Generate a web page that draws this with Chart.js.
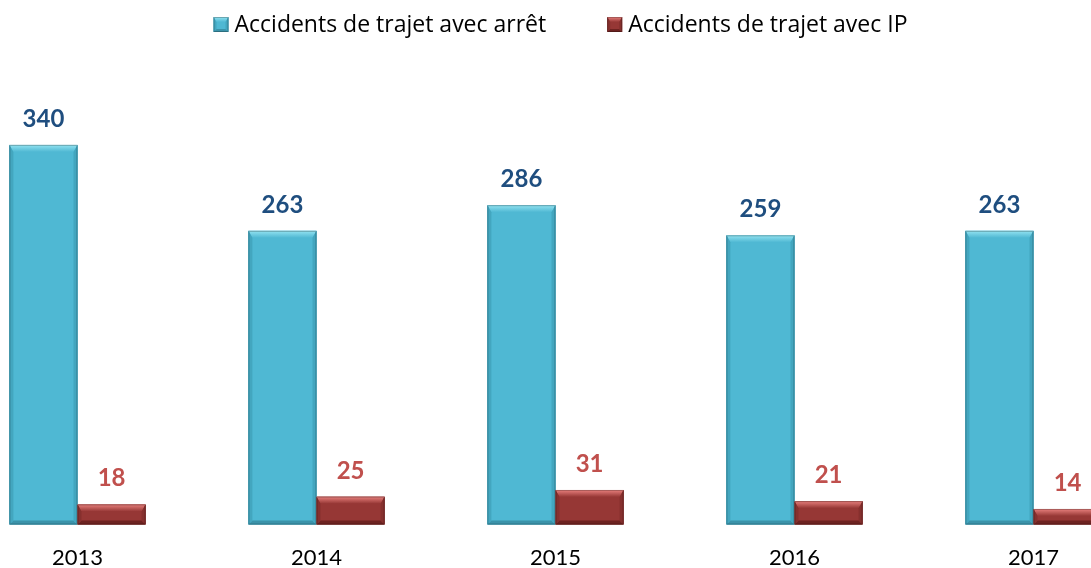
<!DOCTYPE html>
<html>
<head>
<meta charset="utf-8">
<script src="https://cdn.jsdelivr.net/npm/chart.js@4/dist/chart.umd.min.js"></script>
<style>
  html, body { margin: 0; padding: 0; background: #fff; overflow: hidden; }
  #wrap { position: absolute; left: -42px; top: 0; width: 1195px; height: 591px; }
</style>
</head>
<body>
<div id="wrap"><canvas id="chartTrajet" width="1195" height="591"></canvas></div>
<script>
// Données du graphique
var annees = ['2013', '2014', '2015', '2016', '2017'];
var accidentsArret = [340, 263, 286, 259, 263];
var accidentsIP = [18, 25, 31, 21, 14];

// Couleurs : [face, haut clair, bas sombre, côté]
var bevelBleu = ['#4fb8d3', '#93e3f1', '#3b93aa', '#43a6bf'];
var bevelRouge = ['#963735', '#e8807d', '#6e2321', '#86302e'];

// Dessine un rectangle biseauté
function biseau(ctx, l, t, r, b, c, e, eb, es) {
    ctx.save();
    ctx.fillStyle = c[0];
    ctx.fillRect(l, t, r - l, b - t);
    var g = ctx.createLinearGradient(0, t, 0, t + e);
    g.addColorStop(0, c[1]);
    g.addColorStop(1, c[0]);
    ctx.fillStyle = g;
    ctx.beginPath();
    ctx.moveTo(l, t); ctx.lineTo(r, t); ctx.lineTo(r - es, t + e); ctx.lineTo(l + es, t + e);
    ctx.closePath(); ctx.fill();
    ctx.fillStyle = c[2];
    ctx.beginPath();
    ctx.moveTo(l, b); ctx.lineTo(r, b); ctx.lineTo(r - es, b - eb); ctx.lineTo(l + es, b - eb);
    ctx.closePath(); ctx.fill();
    ctx.fillStyle = c[3];
    ctx.beginPath();
    ctx.moveTo(l, t); ctx.lineTo(l + es, t + e); ctx.lineTo(l + es, b - eb); ctx.lineTo(l, b);
    ctx.closePath(); ctx.fill();
    ctx.beginPath();
    ctx.moveTo(r, t); ctx.lineTo(r - es, t + e); ctx.lineTo(r - es, b - eb); ctx.lineTo(r, b);
    ctx.closePath(); ctx.fill();
    ctx.strokeStyle = 'rgba(0,0,0,0.25)';
    ctx.lineWidth = 1;
    ctx.strokeRect(l + 0.5, t + 0.5, r - l - 1, b - t - 1);
    ctx.restore();
}

// Effet biseau sur chaque barre
var biseauPlugin = {
    id: 'biseau',
    afterDatasetsDraw: function (chart) {
        var ctx = chart.ctx;
        chart.data.datasets.forEach(function (ds, i) {
            chart.getDatasetMeta(i).data.forEach(function (bar) {
                var l = bar.x - bar.width / 2, r = bar.x + bar.width / 2;
                var t = bar.y, b = bar.base;
                biseau(ctx, l, t, r, b, ds.bevel, Math.min(7, (b - t) / 2), Math.min(4, (b - t) / 3), 4);
            });
        });
    }
};

// Étiquettes de valeurs au-dessus des barres
var etiquettesPlugin = {
    id: 'etiquettes',
    afterDatasetsDraw: function (chart) {
        var ctx = chart.ctx;
        ctx.save();
        ctx.font = 'bold 24px Lato';
        ctx.textAlign = 'center';
        ctx.textBaseline = 'alphabetic';
        chart.data.datasets.forEach(function (ds, i) {
            ctx.fillStyle = ds.labelColor;
            chart.getDatasetMeta(i).data.forEach(function (bar, j) {
                ctx.fillText(ds.data[j], bar.x, bar.y - 18);
            });
        });
        ctx.restore();
    }
};

// Légende en haut
var legendePlugin = {
    id: 'legende',
    afterDraw: function (chart) {
        var ctx = chart.ctx;
        var box = 15, gap = 6, ecart = 61;
        ctx.save();
        ctx.font = '23px "Open Sans"';
        ctx.textBaseline = 'alphabetic';
        ctx.textAlign = 'left';
        var ds = chart.data.datasets;
        var largeurs = ds.map(function (d) { return ctx.measureText(d.label).width; });
        var total = 0;
        largeurs.forEach(function (w, i) { total += box + gap + w + (i ? ecart : 0); });
        var x = chart.width / 2 + 5 - total / 2;
        ds.forEach(function (d, i) {
            biseau(ctx, x, 17, x + box, 17 + box, d.bevel, 5, 3, 3);
            ctx.fillStyle = '#000';
            ctx.fillText(d.label, x + box + gap, 32);
            x += box + gap + largeurs[i] + ecart;
        });
        ctx.restore();
    }
};

var ctx = document.getElementById('chartTrajet').getContext('2d');

var data = {
    labels: annees,
    datasets: [{
        label: 'Accidents de trajet avec arrêt',
        data: accidentsArret,
        backgroundColor: bevelBleu[0],
        bevel: bevelBleu,
        labelColor: '#1f4e7f'
    }, {
        label: 'Accidents de trajet avec IP',
        data: accidentsIP,
        backgroundColor: bevelRouge[0],
        bevel: bevelRouge,
        labelColor: '#c0504d'
    }]
};

var options = {
    responsive: false,
    animation: false,
    layout: { padding: { left: 0, right: 0, top: 60, bottom: 0 } },
    datasets: {
        bar: { categoryPercentage: 0.57, barPercentage: 1.0 }
    },
    plugins: {
        legend: { display: false },
        tooltip: { enabled: false }
    },
    scales: {
        x: {
            grid: { display: false, drawTicks: false },
            border: { display: false },
            ticks: { color: '#000', font: { family: 'Lato', size: 22 }, padding: 20 }
        },
        y: {
            display: false,
            min: 0,
            max: 416
        }
    }
};

var myBarChart = new Chart(ctx, {
    type: 'bar',
    data: data,
    options: options,
    plugins: [biseauPlugin, etiquettesPlugin, legendePlugin]
});
</script>
</body>
</html>
